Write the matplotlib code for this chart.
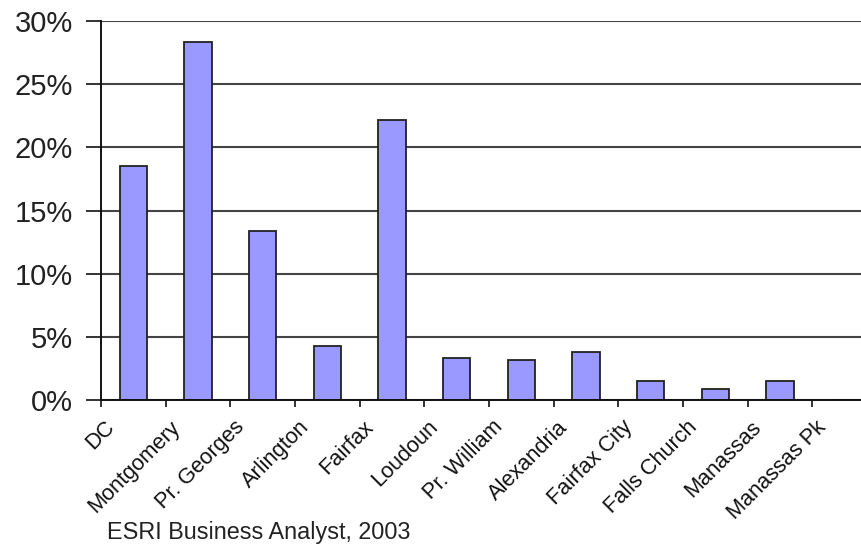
import matplotlib
matplotlib.use("Agg")
import matplotlib.pyplot as plt
import matplotlib.transforms as mtransforms
from matplotlib.ticker import FixedLocator, FuncFormatter

# Share of total by jurisdiction (percent)
jurisdictions = ["DC", "Montgomery", "Pr. Georges", "Arlington", "Fairfax",
                 "Loudoun", "Pr. William", "Alexandria", "Fairfax City",
                 "Falls Church", "Manassas", "Manassas Pk"]
share_pct = [18.5, 28.3, 13.4, 4.3, 22.2, 3.35, 3.15, 3.8, 1.5, 0.9, 1.5, 0.0]
y_ticks = [0, 5, 10, 15, 20, 25, 30]
source_note = "ESRI Business Analyst, 2003"

plt.rcParams["font.family"] = ["Liberation Sans", "DejaVu Sans"]

W, H, DPI = 861, 546, 100
fig = plt.figure(figsize=(W / DPI, H / DPI), dpi=DPI)
fig.patch.set_facecolor("white")

ax = fig.add_axes([101 / W, (H - 400) / H, (877 - 101) / W, 379 / H])
ax.set_facecolor("white")

n = len(jurisdictions)
xs = list(range(n))
ax.bar(xs, share_pct, width=0.42, color="#9999FF", edgecolor="#222222",
       linewidth=1.3, zorder=3)

ax.set_xlim(-0.5, n - 0.5)
ax.set_ylim(0, 30)

# horizontal gridlines
ax.set_yticks(y_ticks)
ax.yaxis.set_major_formatter(FuncFormatter(lambda v, p: f"{v:.0f}%"))
ax.yaxis.grid(True, color="#444444", linewidth=1.5, zorder=1)
ax.tick_params(axis="y", length=11, width=1.2, color="#111111",
               labelsize=21, labelcolor="#222222", pad=9)

# category labels centred on bars, ticks between categories
ax.set_xticks(xs)
ax.set_xticklabels(jurisdictions, rotation=45, ha="right", va="top",
                   fontsize=15.7, color="#111111")
ax.xaxis.set_minor_locator(FixedLocator([i - 0.5 for i in range(n + 1)]))
ax.tick_params(axis="x", which="major", length=0, pad=12)
ax.tick_params(axis="x", which="minor", length=5, width=1.2, color="#111111")
shift = mtransforms.ScaledTranslation(-14 / DPI, 0, fig.dpi_scale_trans)
for lbl in ax.get_xticklabels():
    lbl.set_transform(lbl.get_transform() + shift)

for side in ("top", "right"):
    ax.spines[side].set_visible(False)
for side in ("left", "bottom"):
    ax.spines[side].set_color("#111111")
    ax.spines[side].set_linewidth(1.4)
    ax.spines[side].set_zorder(4)

fig.text(107 / W, 1 - 533 / H, source_note, fontsize=16.8, color="#222222",
         ha="left", va="center")

fig.savefig("out.png", dpi=DPI, facecolor="white")
